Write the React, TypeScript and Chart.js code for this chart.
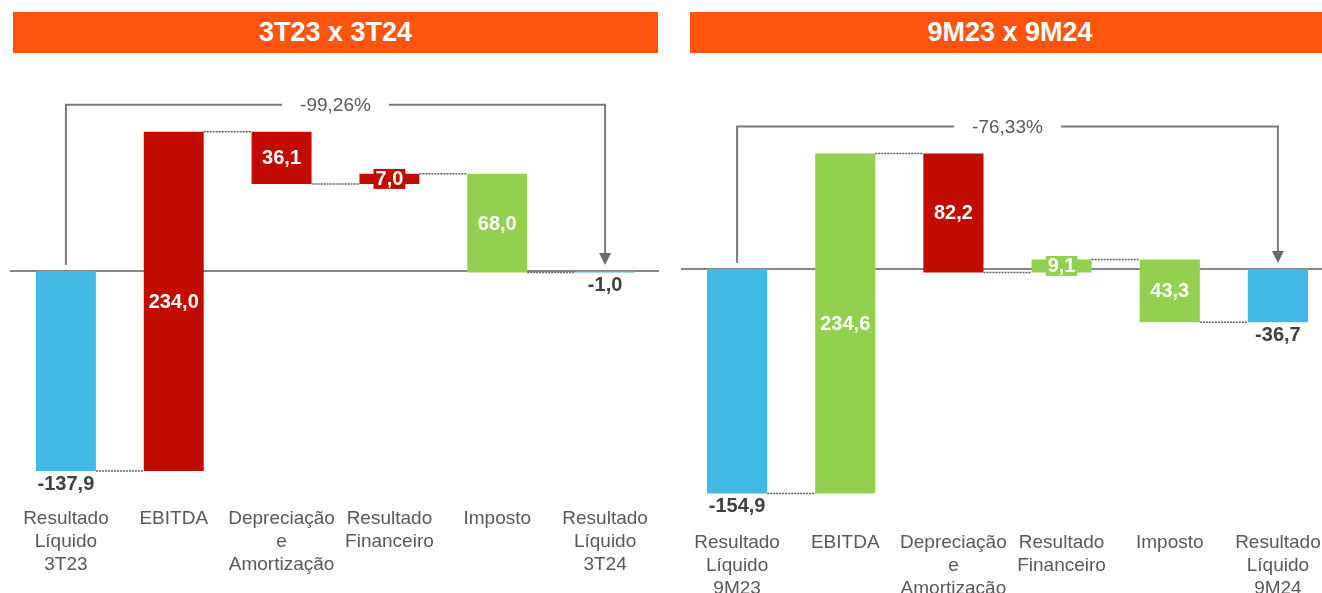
import React, { useEffect, useRef } from "react";
import { Chart, registerables } from "chart.js";

Chart.register(...registerables);

// ---------- data ----------
const CATEGORIES_3T: string[][] = [
  ["Resultado", "Líquido", "3T23"],
  ["EBITDA"],
  ["Depreciação", "e", "Amortização"],
  ["Resultado", "Financeiro"],
  ["Imposto"],
  ["Resultado", "Líquido", "3T24"],
];
const VALUES_3T: number[] = [-137.9, 234.0, -36.1, 7.0, -68.0, -1.0];
const KINDS_3T: string[] = ["total", "delta", "delta", "delta", "delta", "total"];
const TITLE_3T = "3T23 x 3T24";
const PCT_3T = "-99,26%";

const CATEGORIES_9M: string[][] = [
  ["Resultado", "Líquido", "9M23"],
  ["EBITDA"],
  ["Depreciação", "e", "Amortização"],
  ["Resultado", "Financeiro"],
  ["Imposto"],
  ["Resultado", "Líquido", "9M24"],
];
const VALUES_9M: number[] = [-154.9, 234.6, -82.2, 9.1, -43.3, -36.7];
const KINDS_9M: string[] = ["total", "delta", "delta", "delta", "delta", "total"];
const TITLE_9M = "9M23 x 9M24";
const PCT_9M = "-76,33%";

// ---------- styles ----------
const BLUE = "#41B9E6";
const RED = "#C20C00";
const GREEN = "#92D050";
const ORANGE = "#FE5410";
const GREY_TEXT = "#595959";
const DARK_TEXT = "#404040";
const LINE = "#5e5e5e";
const FONT = "'Liberation Sans', Arial, sans-serif";

const COLORS_3T = [BLUE, RED, RED, RED, GREEN, BLUE];
const COLORS_9M = [BLUE, GREEN, RED, GREEN, GREEN, BLUE];

function buildBars(values: number[], kinds: string[]): [number, number][] {
  let run = 0;
  const out: [number, number][] = [];
  values.forEach((v, i) => {
    if (kinds[i] === "total") {
      out.push([0, v]);
      run = v;
    } else {
      out.push([run, run + v]);
      run += v;
    }
  });
  return out;
}

function fmt(v: number): string {
  return v.toFixed(1).replace(".", ",");
}

type WFProps = {
  categories: string[][];
  values: number[];
  kinds: string[];
  colors: string[];
  pct: string;
  yMin: number;
  yMax: number;
  left: number;
  top: number;
  width: number;
  height: number;
  padLeft: number;
  padRight: number;
};

function Waterfall(p: WFProps) {
  const ref = useRef<HTMLCanvasElement | null>(null);

  useEffect(() => {
    const canvas = ref.current;
    if (!canvas) return;
    const bars = buildBars(p.values, p.kinds);

    const wfPlugin = {
      id: "wf",
      beforeDatasetsDraw(chart: any) {
        const ctx = chart.ctx;
        const y = chart.scales.y;
        const area = chart.chartArea;
        const y0 = y.getPixelForValue(0);
        ctx.save();
        ctx.strokeStyle = LINE;
        ctx.lineWidth = 1.5;
        ctx.beginPath();
        ctx.moveTo(area.left - 2, y0);
        ctx.lineTo(area.right, y0);
        ctx.stroke();
        ctx.restore();
      },
      afterDatasetsDraw(chart: any) {
        const ctx = chart.ctx;
        const ys = chart.scales.y;
        const meta = chart.getDatasetMeta(0);
        const els = meta.data;
        const y0 = ys.getPixelForValue(0);
        ctx.save();

        // connectors
        ctx.strokeStyle = LINE;
        ctx.lineWidth = 1.5;
        ctx.setLineDash([2, 1]);
        for (let i = 0; i < els.length - 1; i++) {
          const a = els[i];
          const b = els[i + 1];
          const level = ys.getPixelForValue(bars[i][1]);
          ctx.beginPath();
          ctx.moveTo(a.x + a.width / 2, level);
          ctx.lineTo(b.x - b.width / 2, level);
          ctx.stroke();
        }
        ctx.setLineDash([]);

        // bracket with arrow
        let maxV = 0;
        bars.forEach((b) => {
          maxV = Math.max(maxV, b[0], b[1]);
        });
        const topY = ys.getPixelForValue(maxV) - 27;
        const xa = els[0].x;
        const xb = els[els.length - 1].x;
        const endY = y0 - 6;
        ctx.strokeStyle = "#7a7a7a";
        ctx.lineWidth = 2;
        ctx.beginPath();
        ctx.moveTo(xa, endY);
        ctx.lineTo(xa, topY);
        ctx.lineTo(xb, topY);
        ctx.lineTo(xb, endY - 10);
        ctx.stroke();
        ctx.fillStyle = "#6a6a6a";
        ctx.beginPath();
        ctx.moveTo(xb - 6, endY - 12);
        ctx.lineTo(xb + 6, endY - 12);
        ctx.lineTo(xb, endY);
        ctx.closePath();
        ctx.fill();

        // percentage label
        ctx.font = `19px ${FONT}`;
        const mid = (xa + xb) / 2;
        const tw = ctx.measureText(p.pct).width;
        ctx.fillStyle = "#ffffff";
        ctx.fillRect(mid - tw / 2 - 18, topY - 6, tw + 36, 12);
        ctx.fillStyle = GREY_TEXT;
        ctx.textAlign = "center";
        ctx.textBaseline = "middle";
        ctx.fillText(p.pct, mid, topY + 1);

        // value labels
        ctx.font = `bold 20px ${FONT}`;
        els.forEach((el: any, i: number) => {
          const v = p.values[i];
          const pa = ys.getPixelForValue(bars[i][0]);
          const pb = ys.getPixelForValue(bars[i][1]);
          const top = Math.min(pa, pb);
          const bottom = Math.max(pa, pb);
          if (p.kinds[i] === "total") {
            ctx.fillStyle = DARK_TEXT;
            ctx.fillText(fmt(v), el.x, bottom + 13);
          } else {
            const txt = fmt(Math.abs(v));
            const cy = (top + bottom) / 2;
            if (bottom - top < 26) {
              const w = ctx.measureText(txt).width + 4;
              ctx.fillStyle = p.colors[i];
              ctx.fillRect(el.x - w / 2, cy - 10, w, 20);
            }
            ctx.fillStyle = "#ffffff";
            ctx.fillText(txt, el.x, cy + 1);
          }
        });
        ctx.restore();
      },
    };

    const chart = new Chart(canvas, {
      type: "bar",
      data: {
        labels: p.categories,
        datasets: [
          {
            data: bars as any,
            backgroundColor: p.colors,
            borderWidth: 0,
            barPercentage: 0.556,
            categoryPercentage: 1,
          },
        ],
      },
      options: {
        responsive: false,
        animation: false,
        devicePixelRatio: 1,
        layout: { padding: { left: p.padLeft, right: p.padRight, top: 0, bottom: 0 } },
        plugins: {
          legend: { display: false },
          tooltip: { enabled: false },
        },
        scales: {
          x: {
            grid: { display: false, drawTicks: false },
            border: { display: false },
            ticks: {
              autoSkip: false,
              maxRotation: 0,
              minRotation: 0,
              padding: 7,
              color: GREY_TEXT,
              font: { family: FONT, size: 19, lineHeight: "23px" },
            },
          },
          y: {
            display: false,
            min: p.yMin,
            max: p.yMax,
          },
        },
      },
      plugins: [wfPlugin],
    });
    return () => chart.destroy();
  }, []);

  return (
    <canvas
      ref={ref}
      width={p.width}
      height={p.height}
      style={{ position: "absolute", left: p.left, top: p.top, width: p.width, height: p.height }}
    />
  );
}

function Header(props: { text: string; left: number; width: number }) {
  return (
    <div
      style={{
        position: "absolute",
        left: props.left,
        top: 12,
        width: props.width,
        height: 41,
        background: ORANGE,
        color: "#ffffff",
        fontFamily: FONT,
        fontWeight: "bold",
        fontSize: 27,
        lineHeight: "41px",
        textAlign: "center",
      }}
    >
      {props.text}
    </div>
  );
}

export default function App() {
  return (
    <div
      style={{
        position: "absolute",
        left: 0,
        top: 0,
        width: 1322,
        height: 593,
        overflow: "hidden",
        background: "#ffffff",
      }}
    >
      <Header text={TITLE_3T} left={13} width={645} />
      <Header text={TITLE_9M} left={690} width={640} />
      <Waterfall
        categories={CATEGORIES_3T}
        values={VALUES_3T}
        kinds={KINDS_3T}
        colors={COLORS_3T}
        pct={PCT_3T}
        yMin={-157.9}
        yMax={145.5}
        left={0}
        top={60}
        width={672}
        height={523}
        padLeft={12}
        padRight={13}
      />
      <Waterfall
        categories={CATEGORIES_9M}
        values={VALUES_9M}
        kinds={KINDS_9M}
        colors={COLORS_9M}
        pct={PCT_9M}
        yMin={-175.9}
        yMax={144.1}
        left={671}
        top={60}
        width={672}
        height={547}
        padLeft={12}
        padRight={11}
      />
    </div>
  );
}
